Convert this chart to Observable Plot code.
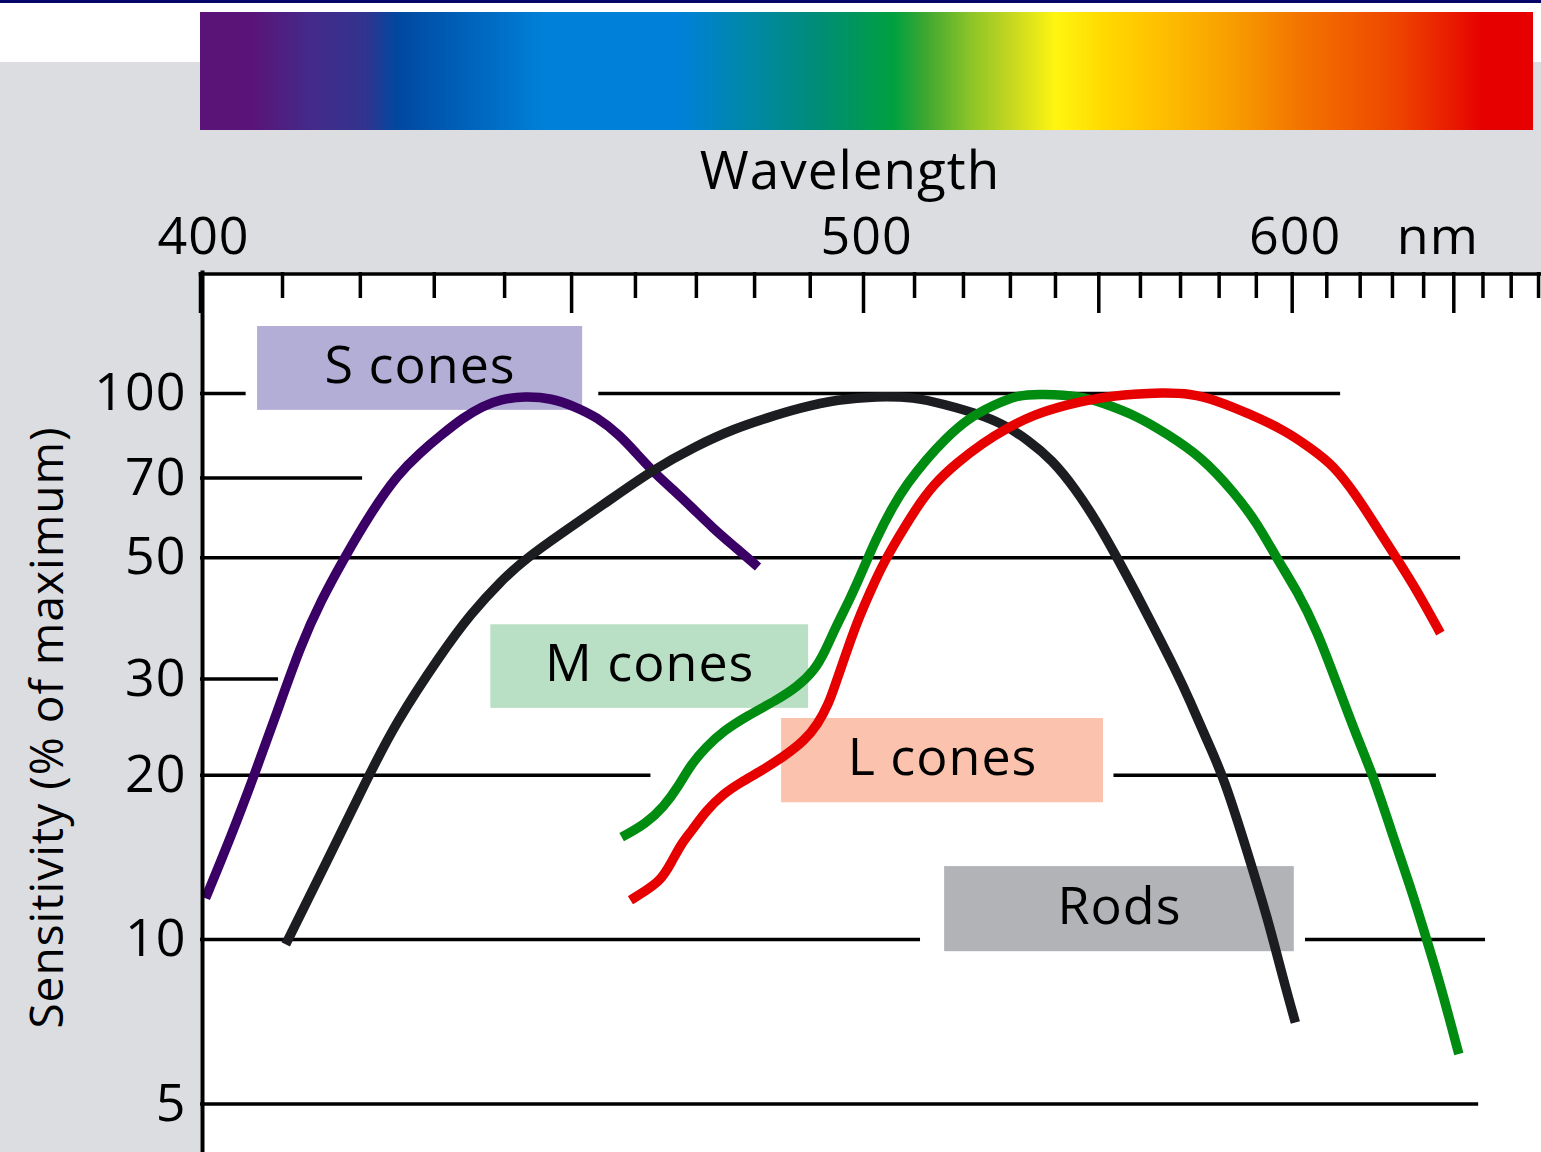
<!DOCTYPE html>
<html>
<head>
<meta charset="utf-8">
<script src="https://cdn.jsdelivr.net/npm/d3@7"></script>
<script src="https://cdn.jsdelivr.net/npm/@observablehq/plot@0.6"></script>
<style>
  body { margin: 0; background: #fff; }
  #wrap {
    position: relative; width: 1541px; height: 1152px; overflow: hidden;
    background: linear-gradient(to bottom, #06066a 0px, #06066a 3px, #ffffff 3px, #ffffff 62px, #dcdde0 62px);
    font-family: "Open Sans", sans-serif;
  }
  #wrap svg { position: absolute; left: 0; }
  #main { top: 0; }
  #spec { top: 12px; }
</style>
</head>
<body>
<div id="wrap"></div>
<script>
// ---------- data (wavelength in nm, sensitivity in % of maximum) ----------
const sConeWl  = [400.6,403.7,406.5,409.4,412.3,414.9,417.8,421.4,425.0,428.1,430.9,434.1,436.8,439.4,443.0,447.0,450.4,454.0,457.6,460.0,462.8,466.2,469.4,472.7,476.6,480.6];
const sConeVal = [11.9,15.5,20.0,26.3,34.6,41.8,49.7,60.5,71.1,78.0,83.8,90.4,94.7,97.6,98.8,98.0,94.7,90.4,83.6,78.0,72.0,66.5,61.6,56.8,52.3,48.1];

const rodWl  = [410.4,415.7,421.0,424.6,430.9,435.2,439.5,443.0,448.6,454.6,462.7,470.0,476.5,481.9,488.1,495.2,502.4,509.9,516.2,522.6,528.3,534.1,539.2,544.5,549.8,554.6,559.0,563.7,568.5,572.4,576.5,581.3,588.2,593.0,597.6,600.9];
const rodVal = [9.8,13.95,19.8,24.8,33.3,39.6,45.4,49.7,55.6,62.2,72.4,80.2,86.2,90.0,94.1,97.5,98.8,98.5,95.4,92.0,88.1,81.9,75.6,67.0,57.8,49.6,43.0,36.8,31.4,27.4,23.4,19.8,14.0,11.0,8.4,7.05];

const mConeWl  = [457.8,461.7,464.6,466.9,469.2,471.6,474.6,478.8,483.8,487.6,490.8,492.8,494.7,497.4,499.5,502.4,505.5,508.5,512.3,516.2,520.9,526.6,531.6,537.0,546.0,550.5,559.0,566.7,575.2,584.0,590.3,595.8,601.4,607.2,613.1,619.1,624.2,629.3,635.7,641.1,645.5,651.7];
const mConeVal = [15.4,16.3,17.5,19.0,21.0,22.5,24.1,25.7,27.4,29.0,31.1,33.8,37.3,42.0,46.6,54.1,61.7,68.3,75.6,82.5,90.0,95.4,99.4,99.8,98.8,96.3,91.1,84.2,76.7,65.9,57.8,49.7,43.5,36.7,29.3,23.4,19.8,16.0,12.5,9.95,8.27,6.17];

const lConeWl  = [459.2,461.7,464.0,465.8,467.5,469.2,471.6,474.6,477.6,481.3,485.1,488.9,491.4,493.4,494.7,496.0,497.3,499.0,501.4,503.9,506.9,509.9,513.9,518.6,524.2,529.1,535.0,542.7,549.8,559.0,565.0,572.6,579.5,588.2,597.6,605.1,612.1,619.1,625.2,631.5,637.9,645.5];
const lConeVal = [11.8,12.3,12.8,13.8,15.0,15.8,17.2,18.5,19.4,20.4,21.6,23.1,24.8,27.0,29.4,32.0,34.8,38.6,43.6,49.0,54.7,60.8,68.3,74.6,81.3,86.2,91.4,95.4,98.2,99.8,100.3,100,97.0,91.7,85.8,79.6,73.8,64.7,56.7,49.7,43.5,36.4];

// label boxes
const boxNames = ["S cones", "M cones", "L cones", "Rods"];
const boxWlFrom = [406.9, 438.0, 484.8, 516.1];
const boxWlTo   = [451.7, 489.7, 551.1, 600.6];
const boxLow    = [93.1, 26.5, 17.8, 9.5];
const boxHigh   = [132.6, 37.7, 25.4, 13.6];

// horizontal reference lines (broken around the labels)
const gridValue = [100, 100, 70, 50, 30, 20, 20, 10, 10, 5];
const gridFrom  = [400, 454.2, 400, 400, 400, 400, 553.6, 400, 603.8, 400];
const gridTo    = [405.5, 614.1, 420.3, 652.3, 409.5, 462.5, 644.2, 511.2, 660.9, 658.5];

// ticks
const yTicks = [5, 10, 20, 30, 50, 70, 100];
const xLabelTicks = [400, 500, 600];
const xMinorTicks = [410,420,430,440,460,470,480,490,510,520,530,540,560,570,580,590,610,620,630,640,660,670,680];
const xMajorTicks = [400, 450, 500, 550, 600, 650];

// spectrum colour stops
const spectrumWl = [400, 406.2, 413.7, 420.5, 425.0, 445.6, 467.2, 478.8, 491.2, 505.9, 512.6, 521.5, 530.7, 540.0, 551.9, 562.3, 582.0, 603.2, 631.9, 660.2, 678.0];
const spectrumColor = ["#5a1478","#5a1478","#442a8a","#33338e","#0048a0","#0080d8","#0080d8","#0088a8","#008c78","#00a040","#40a830","#8cc428","#c8d820","#fff510","#ffd800","#ffc400","#f8a000","#f37200","#ee4400","#e60000","#e60000"];

// ---------- scales ----------
const W = 1541, H = 1152, ML = 200, MT = 272;
const xDomain = [400, 681.1];
const yDomain = [4.074, 166.5];
const xScale = {type: "pow", exponent: -1.15, domain: xDomain};
const xs = d3.scalePow().exponent(-1.15).domain(xDomain).range([ML, W]);

// ---------- tables ----------
const curves = [
  {wl: sConeWl, val: sConeVal, color: "#3b0066"},
  {wl: rodWl,   val: rodVal,   color: "#1c1d21"},
  {wl: mConeWl, val: mConeVal, color: "#008c10"},
  {wl: lConeWl, val: lConeVal, color: "#e60000"}
];
const boxes = boxNames.map((name, i) => ({
  name,
  x1: boxWlFrom[i], x2: boxWlTo[i], lo: boxLow[i], hi: boxHigh[i],
  fill: ["#b3aed6", "#b9dfc5", "#fbc2ad", "#b1b3b6"][i],
  tx: xs.invert((xs(boxWlFrom[i]) + xs(boxWlTo[i])) / 2),
  ty: Math.sqrt(boxLow[i] * boxHigh[i])
}));
const grid = gridValue.map((v, i) => ({v, a: gridFrom[i], b: gridTo[i]}));

const frameH = H - MT;
const fontStyle = {background: "transparent", fontFamily: "'Open Sans', sans-serif", letterSpacing: "1px", color: "black"};

const main = Plot.plot({
  width: W, height: H,
  marginLeft: ML, marginTop: MT, marginRight: 0, marginBottom: 0,
  x: xScale,
  y: {type: "log", domain: yDomain},
  style: fontStyle,
  marks: [
    Plot.frame({fill: "white", stroke: "none"}),
    Plot.rect(boxes, {x1: "x1", x2: "x2", y1: "lo", y2: "hi", fill: "fill"}),
    Plot.ruleY(grid, {y: "v", x1: "a", x2: "b", stroke: "black", strokeWidth: 3.5}),
    ...curves.map(c => Plot.line(c.wl.map((w, i) => ({w, v: c.val[i]})), {
      x: "w", y: "v", stroke: c.color, strokeWidth: 9.5, curve: "basis",
      strokeLinecap: "butt", strokeLinejoin: "round"
    })),
    Plot.text(boxes, {x: "tx", y: "ty", text: "name", fontSize: 52, dy: -2, fill: "black"}),
    // axes
    Plot.tickX(xMinorTicks, {x: d => d, stroke: "black", strokeWidth: 3.5, insetBottom: frameH - 26}),
    Plot.tickX(xMajorTicks, {x: d => d, stroke: "black", strokeWidth: 3.5, insetBottom: frameH - 41}),
    Plot.frame({anchor: "top", stroke: "black", strokeWidth: 3.5, dy: 1.5}),
    Plot.frame({anchor: "left", stroke: "black", strokeWidth: 4, dx: 2}),
    Plot.axisX(xLabelTicks, {anchor: "top", tickSize: 0, tickPadding: 19, fontSize: 52, label: null, tickFormat: d => String(d), dx: 3}),
    Plot.axisX([650], {anchor: "top", tickSize: 0, tickPadding: 19, fontSize: 52, label: null, tickFormat: () => "nm", dx: -16}),
    Plot.axisY(yTicks, {anchor: "left", tickSize: 0, tickPadding: 14, fontSize: 52, label: null, tickFormat: d => String(d)}),
    Plot.text(["Wavelength"], {frameAnchor: "top", lineAnchor: "bottom", dy: -84, dx: -21, fontSize: 53, fill: "black"}),
    Plot.text(["Sensitivity (% of maximum)"], {frameAnchor: "left", textAnchor: "middle", rotate: -90, dx: -152, dy: 15, fontSize: 46, fill: "black"})
  ]
});
main.id = "main";

// spectrum bar, drawn on the same wavelength scale
const specColor = d3.scaleLinear().domain(spectrumWl).range(spectrumColor).interpolate(d3.interpolateRgb);
const bins = [];
for (let w = 400; w < 678; w += 0.25) bins.push({a: w, b: Math.min(678, w + 0.3), c: specColor(w + 0.125)});
const spec = Plot.plot({
  width: W, height: 118,
  marginLeft: ML, marginTop: 0, marginRight: 0, marginBottom: 0,
  x: {...xScale, axis: null},
  style: {background: "transparent"},
  marks: [
    Plot.rect(bins, {x1: "a", x2: "b", fill: "c", shapeRendering: "crispEdges"})
  ]
});
spec.id = "spec";

const wrap = document.getElementById("wrap");
wrap.appendChild(main);
wrap.appendChild(spec);
</script>
</body>
</html>
